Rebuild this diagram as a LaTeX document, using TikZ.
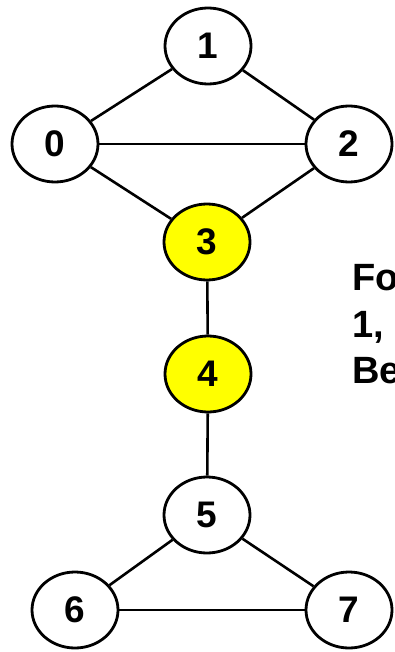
\documentclass[tikz,border=0pt]{standalone}
\usepackage{fontspec}
\setmainfont{Liberation Sans}
\usetikzlibrary{shapes.geometric}
\definecolor{nodeyellow}{RGB}{255,255,0}
\tikzset{
  vertex/.style={ellipse, draw=black, line width=2.8pt, fill=white,
    minimum width=86pt, minimum height=76pt, inner sep=0pt,
    font=\fontsize{37}{40}\selectfont\bfseries},
  hot/.style={vertex, fill=nodeyellow},
  edge/.style={draw=black, line width=2.6pt},
  sidetext/.style={anchor=base west, inner sep=0pt,
    font=\fontsize{38}{46}\selectfont\bfseries}
}
\begin{document}
\begin{tikzpicture}[x=1pt,y=-1pt]
\useasboundingbox (0,0) rectangle (394,652);
\node[vertex] (n1) at (208,46) {1};
\node[vertex] (n0) at (55,144) {0};
\node[vertex] (n2) at (349,144) {2};
\node[hot] (n3) at (207,242) {3};
\node[hot] (n4) at (208,374) {4};
\node[vertex] (n5) at (207,515) {5};
\node[vertex] (n6) at (75,610) {6};
\node[vertex] (n7) at (349,610) {7};
\path[edge] (n0) -- (n1);
\path[edge] (n1) -- (n2);
\path[edge] (n0) -- (n2);
\path[edge] (n0) -- (n3);
\path[edge] (n2) -- (n3);
\path[edge] (n3) -- (n4);
\path[edge] (n4) -- (n5);
\path[edge] (n5) -- (n6);
\path[edge] (n5) -- (n7);
\path[edge] (n6) -- (n7);
\node[sidetext] (t1) at (352,290) {Fo};
\node[sidetext] (t2) at (352,337) {1,};
\node[sidetext] (t3) at (352,383) {Be};
\end{tikzpicture}
\end{document}
